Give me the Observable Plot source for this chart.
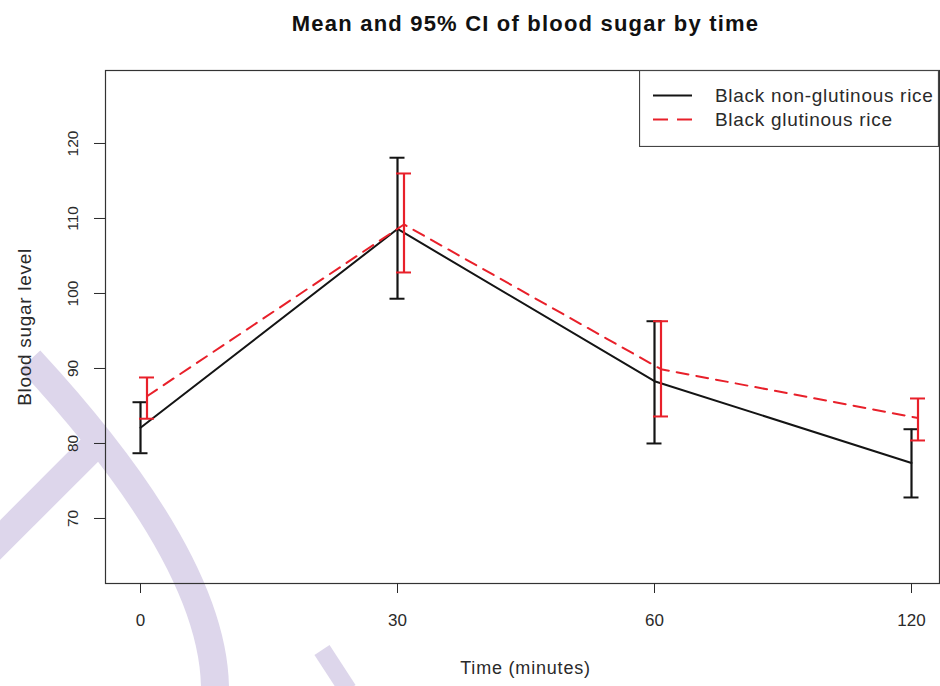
<!DOCTYPE html>
<html><head><meta charset="utf-8">
<script src="https://cdn.jsdelivr.net/npm/d3@7"></script>
<script src="https://cdn.jsdelivr.net/npm/@observablehq/plot@0.6"></script>
<style>
html,body{margin:0;padding:0;background:#fff;}
#wrap{position:relative;width:940px;height:686px;overflow:hidden;font-family:"Liberation Sans",Arial,Helvetica,sans-serif;}
#wm,#chart,#legend{position:absolute;left:0;top:0;}
</style></head><body>
<div id="wrap">
<svg id="wm" width="940" height="686">
 <g fill="none" stroke="#ddd6eb" stroke-linecap="butt">
  <path d="M30,360 Q215,560 215,690" stroke-width="28"/>
  <path d="M-12,552 L98,442" stroke-width="28"/>
  <path d="M322,650 L348,690" stroke-width="18"/>
 </g>
</svg>
<div id="chart"></div>
</div>
<script>
// ---- data ----
const times = ["0", "30", "60", "120"];
const nonGlutMean = [82.1, 108.6, 88.3, 77.4];
const nonGlutLow  = [78.7, 99.3, 80.0, 72.8];
const nonGlutHigh = [85.5, 118.1, 96.3, 81.9];
const glutMean = [86.3, 109.2, 89.9, 83.4];
const glutLow  = [83.3, 102.8, 83.6, 80.4];
const glutHigh = [88.8, 116.0, 96.3, 86.0];
const yTicks = [70, 80, 90, 100, 110, 120];
const seriesNames = ["Black non-glutinous rice", "Black glutinous rice"];
const titleText = "Mean and 95% CI of blood sugar by time";
const xLabel = "Time (minutes)";
const yLabel = "Blood sugar level";

const nonGlut = times.map((t, i) => ({time: t, mean: nonGlutMean[i], low: nonGlutLow[i], high: nonGlutHigh[i]}));
const glut = times.map((t, i) => ({time: t, mean: glutMean[i], low: glutLow[i], high: glutHigh[i]}));

const BLACK = "#141414", RED = "#e8202a";
const capOpts = {x1: "time", x2: "time", insetLeft: -7.5, insetRight: -7.5, strokeWidth: 2};

const chart = Plot.plot({
  width: 940, height: 686,
  marginLeft: 105, marginRight: 1, marginTop: 70, marginBottom: 103,
  style: {background: "transparent", fontFamily: "'Liberation Sans', Arial, Helvetica, sans-serif", color: "#2a2a2a"},
  x: {type: "point", domain: times, padding: 0, insetLeft: 34, insetRight: 27},
  y: {domain: [61.33, 129.73]},
  marks: [
    Plot.frame({stroke: "#333", strokeWidth: 1.2}),
    Plot.axisX({tickSize: 10, tickPadding: 20, fontSize: 17, label: null}),
    Plot.axisY({ticks: yTicks, tickSize: 11, tickFormat: () => "", label: null}),
    Plot.text(yTicks, {y: d => d, text: d => String(d), frameAnchor: "left", dx: -32.5, rotate: -90,
      textAnchor: "middle", lineAnchor: "middle", fontSize: 15.5}),
    // black series
    Plot.line(nonGlut, {x: "time", y: "mean", stroke: BLACK, strokeWidth: 2}),
    Plot.ruleX(nonGlut, {x: "time", y1: "low", y2: "high", stroke: BLACK, strokeWidth: 2.2}),
    Plot.ruleY(nonGlut, {y: "high", stroke: BLACK, ...capOpts}),
    Plot.ruleY(nonGlut, {y: "low", stroke: BLACK, ...capOpts}),
    // red series
    Plot.line(glut, {x: "time", y: "mean", stroke: RED, strokeWidth: 2, strokeDasharray: "12,8", dx: 6.5}),
    Plot.ruleX(glut, {x: "time", y1: "low", y2: "high", stroke: RED, strokeWidth: 2.2, dx: 6.5}),
    Plot.ruleY(glut, {y: "high", stroke: RED, dx: 6.5, ...capOpts}),
    Plot.ruleY(glut, {y: "low", stroke: RED, dx: 6.5, ...capOpts}),
    // titles
    Plot.text([titleText], {text: d => d, frameAnchor: "top", dx: 3, dy: -47, fontSize: 22, fontWeight: "bold", lineAnchor: "middle", fill: "#111"}),
    Plot.text([xLabel], {text: d => d, frameAnchor: "bottom", dx: 3, dy: 85, fontSize: 18, lineAnchor: "middle"}),
    Plot.text([yLabel], {text: d => d, frameAnchor: "left", dx: -81, rotate: -90, fontSize: 19, textAnchor: "middle", lineAnchor: "middle"})
  ]
});
document.getElementById("chart").appendChild(chart);

const spacing = {[titleText]: "1.2px", [xLabel]: "0.8px", [yLabel]: "0.7px"};
d3.select(chart).selectAll("text").each(function() {
  const s = spacing[this.textContent];
  if (s) this.setAttribute("letter-spacing", s);
});

// legend (top-right inside the frame)
const lg = d3.select("#wrap").append("svg").attr("id", "legend")
  .style("left", "639px").style("top", "70px").attr("width", 300).attr("height", 77);
lg.append("rect").attr("x", 0.5).attr("y", 0.5).attr("width", 299).attr("height", 76)
  .attr("fill", "#fff").attr("stroke", "#444").attr("stroke-width", 1.2);
const rows = [
  {name: seriesNames[0], stroke: BLACK, dash: null},
  {name: seriesNames[1], stroke: RED, dash: "15,9"}
];
rows.forEach((r, i) => {
  const y = 25.5 + i * 24;
  lg.append("line").attr("x1", 14).attr("x2", 53).attr("y1", y).attr("y2", y)
    .attr("stroke", r.stroke).attr("stroke-width", 2).attr("stroke-dasharray", r.dash);
  lg.append("text").attr("x", 76).attr("y", y).attr("dy", "0.35em")
    .attr("font-size", 19).attr("letter-spacing", "0.7px").attr("fill", "#2a2a2a")
    .attr("font-family", "'Liberation Sans', Arial, Helvetica, sans-serif").text(r.name);
});
</script>
</body></html>
